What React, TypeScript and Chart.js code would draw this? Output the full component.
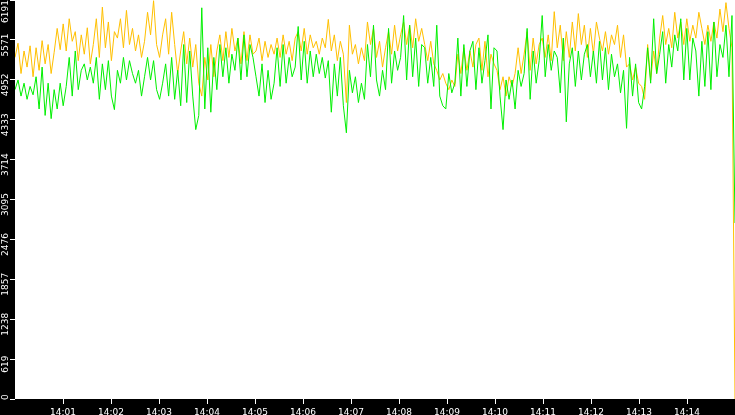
import { useEffect, useRef } from "react";
import { Chart, registerables } from "chart.js";
import type { Plugin } from "chart.js";

Chart.register(...registerables);

// samples cover 14:00:00 - 14:15:00, one every ~3.77 s
const hourLabel = "14";
const xTickMinutes = [1, 2, 3, 4, 5, 6, 7, 8, 9, 10, 11, 12, 13, 14];
const yTicks = [0, 619, 1238, 1857, 2476, 3095, 3714, 4333, 4952, 5571, 6191];
const yMax = 6191;

const orangeSeries = [
  5300, 5520, 5050, 5400, 5150, 5480, 5000, 5450, 5100, 5560, 5200, 5500, 5050, 5380, 5750, 5420, 5820, 5400, 5900, 5550,
  5700, 5250, 5650, 5350, 5760, 5200, 5500, 5900, 5300, 6080, 5450, 5850, 5250, 5700, 5600, 5900, 5450, 6030, 5500, 5750,
  5400, 5650, 5300, 5550, 6000, 5650, 6180, 5500, 5300, 5650, 5900, 5350, 6000, 5500, 5050, 5400, 5700, 5200, 5600, 5150,
  5500, 4900, 4700, 5300, 4950, 5500, 5000, 5400, 5650, 5250, 5700, 5300, 5750, 5400, 5600, 5200, 5700, 5250, 5650, 5350,
  5400, 5600, 5250, 5550, 5300, 5500, 5350, 5600, 5300, 5650, 5350, 5550, 5250, 5600, 5700, 5400, 5750, 5350, 5650, 5450,
  5550, 5350, 5600, 5450, 5890, 5400, 5650, 5250, 5550, 5350, 4600, 5800, 5350, 5500, 5200, 5450, 5250, 5850, 5500, 5750,
  5300, 5550, 5150, 5450, 5700, 5350, 5800, 5400, 5650, 5850, 5500, 5800, 5450, 5900, 5550, 5750, 5500, 5250, 5550, 5200,
  5100, 4950, 5050, 4900, 4800, 4950, 4850, 5350, 5050, 5450, 5100, 5400, 5150, 5500, 5600, 5100, 5550, 5000, 5350, 5200,
  5100, 4800, 5000, 4700, 5000, 4850, 5050, 5450, 5050, 5350, 5700, 5100, 5600, 5200, 5500, 5600, 5300, 5650, 5250, 6010,
  5450, 5800, 5250, 5700, 5300, 5850, 5400, 5980, 5500, 5800, 5300, 5750, 5350, 5850, 5600, 5400, 5700, 5350, 5650, 5500,
  5800, 5300, 5650, 5150, 5200, 4950, 5150, 4900, 4850, 4650, 5500, 4950, 5400, 5050, 5600, 5950, 5500, 5750, 5450, 6000,
  5600, 5850, 5500, 5900, 5550, 5800, 5600, 6000, 5750, 5500, 5800, 5550, 5850, 5600, 6050, 5700, 6150, 5750, 5450, 0,
];

const greenSeries = [
  4800, 4950, 4700, 4900, 4650, 4850, 4720, 5000, 4500, 5150, 4400, 4900, 4350, 4800, 4500, 4900, 4550, 4850, 5300, 4700,
  5400, 4800, 5100, 5200, 4950, 5150, 4900, 5300, 4650, 5200, 4800, 5250, 4700, 4490, 5100, 4900, 5300, 4950, 5250, 5050,
  4900, 5100, 4700, 5000, 5300, 4950, 5250, 4800, 4650, 4900, 5200, 4700, 5300, 4650, 5100, 4550, 5500, 4600, 5400, 4700,
  4180, 4400, 6070, 4500, 5450, 4450, 5300, 4800, 5500, 5000, 5450, 4900, 5350, 5100, 5600, 4950, 5650, 5000, 5500, 5300,
  5000, 4700, 5200, 4600, 5100, 4650, 4900, 5450, 4850, 5500, 4900, 5300, 5000, 5150, 5780, 4950, 5550, 4900, 5400, 5000,
  5350, 5050, 5300, 4980, 5250, 4450, 5200, 4700, 5300, 4550, 4130, 5100, 4750, 5000, 4600, 4900, 4650, 5500, 5000, 5800,
  4950, 4700, 5100, 4800, 5750, 4900, 5400, 5100, 5300, 5950, 4950, 5800, 5000, 5600, 4850, 5500, 5450, 4900, 5300, 4850,
  5800, 4700, 4550, 4500, 5050, 4750, 4900, 5600, 4700, 5500, 4850, 5400, 5550, 4800, 5450, 4900, 5250, 5650, 4500, 5450,
  5400, 4700, 4180, 4950, 4650, 4950, 4500, 5100, 4850, 5050, 5750, 4650, 5400, 4900, 5250, 5950, 5000, 5500, 5100, 5400,
  5300, 4750, 5600, 4300, 5200, 5450, 4850, 5400, 4950, 5350, 5500, 5000, 5400, 4900, 5550, 4950, 5450, 4800, 5350, 5000,
  5200, 4750, 5100, 4200, 5300, 4700, 5200, 4600, 4500, 4850, 5450, 4900, 5900, 5050, 5350, 5700, 4900, 5500, 5150, 5650,
  5400, 5900, 4950, 5750, 4950, 5600, 5400, 4700, 5550, 4850, 5700, 4800, 5850, 5000, 5500, 5300, 5800, 5000, 5950, 2730,
];

const SPAN_SEC = 900;
const toPoints = (vals: number[]) =>
  vals.map((v, i) => ({ x: (i * SPAN_SEC) / (vals.length - 1), y: v }));

const FONT = { family: "'DejaVu Sans', sans-serif", size: 9 };

const framePlugin: Plugin<"line"> = {
  id: "frame",
  beforeDraw(chart) {
    const { ctx, width, height, chartArea } = chart;
    ctx.save();
    ctx.fillStyle = "#000";
    ctx.fillRect(0, 0, width, height);
    ctx.fillStyle = "#fff";
    ctx.fillRect(chartArea.left, chartArea.top, chartArea.right - chartArea.left, chartArea.bottom - chartArea.top);
    ctx.restore();
  },
  afterDraw(chart) {
    // rotated value labels on the left strip, sitting just under their tick
    const { ctx, chartArea } = chart;
    const y = chart.scales.y;
    ctx.save();
    ctx.fillStyle = "#fff";
    ctx.font = `${FONT.size}px ${FONT.family}`;
    ctx.textAlign = "left";
    ctx.textBaseline = "middle";
    for (const v of yTicks) {
      const text = String(v);
      const w = ctx.measureText(text).width;
      const py = y.getPixelForValue(v);
      let bottom = py + 5 + w / 2;
      if (bottom > chartArea.bottom + 1) bottom = chartArea.bottom + 1;
      if (bottom - w < 0) bottom = w;
      ctx.save();
      ctx.translate(6, bottom);
      ctx.rotate(-Math.PI / 2);
      ctx.fillText(text, 0, 0);
      ctx.restore();
    }
    ctx.restore();
  },
};

export default function App() {
  const canvasRef = useRef<HTMLCanvasElement>(null);
  const chartRef = useRef<Chart | null>(null);

  useEffect(() => {
    document.body.style.margin = "0";
    if (!canvasRef.current) return;
    chartRef.current?.destroy();

    chartRef.current = new Chart(canvasRef.current, {
      type: "line",
      data: {
        datasets: [
          {
            label: "green",
            data: toPoints(greenSeries),
            borderColor: "#00f000",
            borderWidth: 1,
            pointRadius: 0,
            tension: 0,
            fill: false,
          },
          {
            label: "orange",
            data: toPoints(orangeSeries),
            borderColor: "#ffc000",
            borderWidth: 1,
            pointRadius: 0,
            tension: 0,
            fill: false,
          },
        ],
      },
      options: {
        animation: false,
        responsive: true,
        maintainAspectRatio: false,
        layout: { padding: 0 },
        plugins: {
          legend: { display: false },
          tooltip: { enabled: false },
        },
        scales: {
          x: {
            type: "linear",
            min: 0,
            max: SPAN_SEC,
            afterBuildTicks: (scale) => {
              scale.ticks = xTickMinutes.map((m) => ({ value: m * 60 }));
            },
            afterFit: (scale) => {
              scale.height = 16;
            },
            border: { display: false },
            grid: { drawOnChartArea: false, drawTicks: true, tickLength: 5, color: "#fff" },
            ticks: {
              color: "#fff",
              font: FONT,
              padding: 3,
              autoSkip: false,
              maxRotation: 0,
              callback: (value) => `${hourLabel}:${String(Math.round(Number(value) / 60)).padStart(2, "0")}`,
            },
          },
          y: {
            min: 0,
            max: yMax,
            afterBuildTicks: (scale) => {
              scale.ticks = yTicks.map((v) => ({ value: v }));
            },
            afterFit: (scale) => {
              scale.width = 15;
            },
            border: { display: false },
            grid: { drawOnChartArea: false, drawTicks: true, tickLength: 5, color: "#fff" },
            ticks: { display: false },
          },
        },
      },
      plugins: [framePlugin],
    });

    return () => {
      chartRef.current?.destroy();
      chartRef.current = null;
    };
  }, []);

  return (
    <div style={{ width: 735, height: 415 }}>
      <canvas ref={canvasRef} />
    </div>
  );
}
